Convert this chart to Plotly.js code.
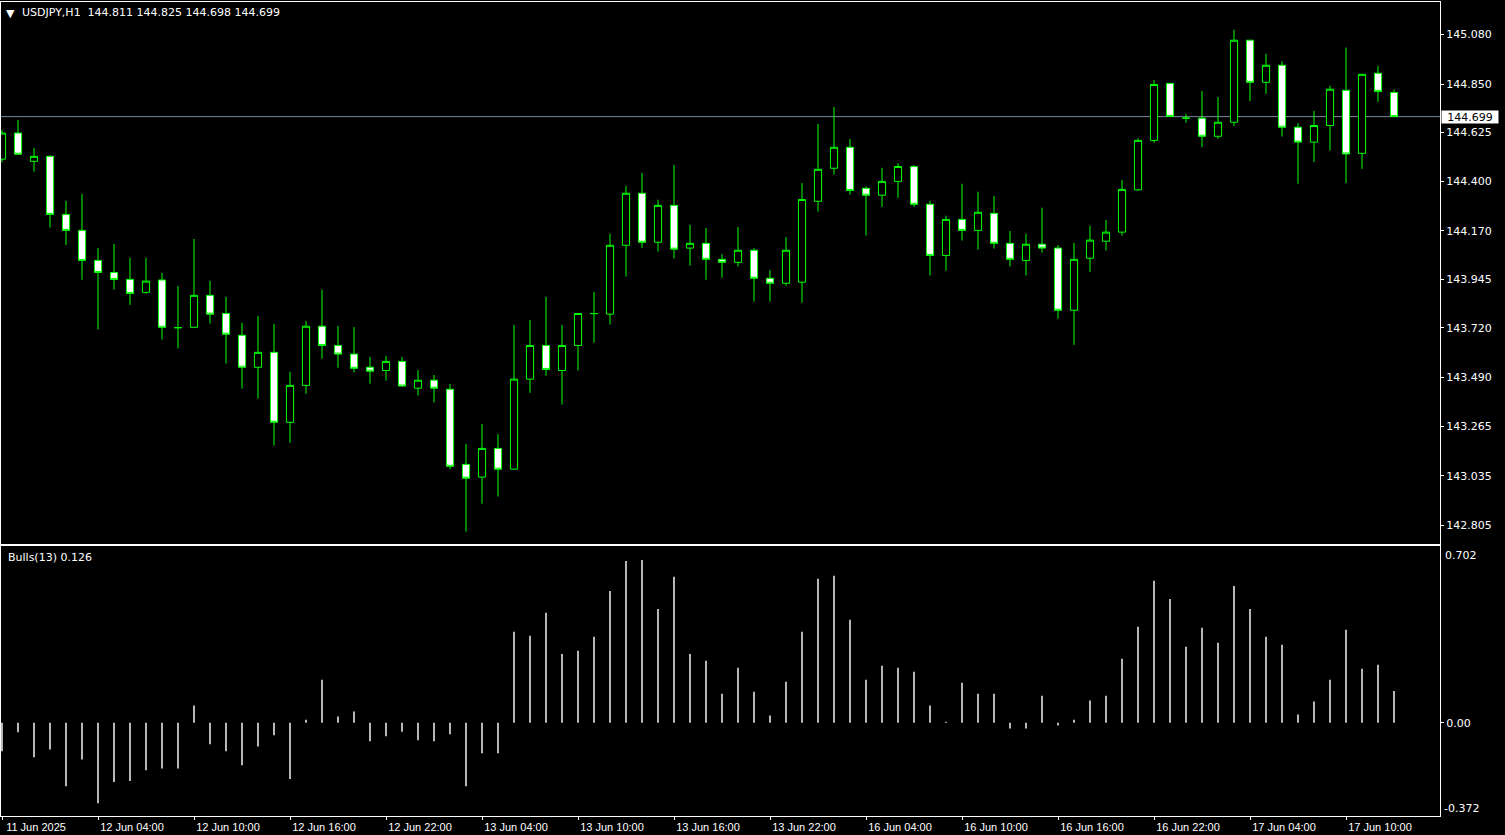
<!DOCTYPE html>
<html><head><meta charset="utf-8">
<script src="https://cdn.plot.ly/plotly-3.0.1.min.js"></script>
<style>html,body{margin:0;padding:0;background:#000;overflow:hidden}#chart{width:1505px;height:835px}</style>
</head><body><div id="chart"></div><script>
const symbol = 'USDJPY,H1';
const open  = [144.502,144.623,144.492,144.515,144.246,144.172,144.033,143.977,143.945,143.885,
143.942,143.722,143.723,143.871,143.787,143.686,143.538,143.607,143.283,143.454,
143.728,143.639,143.599,143.538,143.523,143.565,143.441,143.478,143.436,143.088,
143.029,143.162,143.066,143.483,143.639,143.523,143.639,143.786,143.784,144.103,
144.344,144.117,144.288,144.090,144.112,144.038,144.024,144.080,143.950,143.927,
143.932,144.307,144.460,144.557,144.367,144.335,144.399,144.468,144.293,144.056,
144.223,144.172,144.251,144.112,144.033,144.108,144.090,143.802,144.043,144.122,
144.164,144.360,144.589,144.853,144.692,144.692,144.608,144.673,145.053,144.858,
144.937,144.650,144.581,144.658,144.821,144.529,144.900,144.811];
const high  = [144.636,144.684,144.554,144.521,144.309,144.341,144.090,144.109,144.045,144.045,
143.975,143.914,144.132,143.938,143.864,143.744,143.776,143.739,143.517,143.752,
143.897,143.729,143.724,143.586,143.591,143.586,143.525,143.502,143.460,143.183,
143.275,143.228,143.734,143.757,143.864,143.734,143.790,143.887,144.156,144.378,
144.438,144.314,144.475,144.198,144.183,144.062,144.188,144.090,143.988,144.141,
144.391,144.665,144.744,144.595,144.376,144.462,144.484,144.475,144.309,144.240,
144.388,144.351,144.331,144.169,144.156,144.277,144.104,144.114,144.193,144.220,
144.405,144.599,144.869,144.856,144.711,144.818,144.790,145.101,145.055,144.990,
144.956,144.669,144.726,144.842,145.019,144.897,144.934,144.825];
const low   = [144.488,144.522,144.444,144.185,144.104,143.943,143.713,143.898,143.827,143.879,
143.666,143.625,143.721,143.740,143.555,143.439,143.393,143.175,143.188,143.415,
143.578,143.536,143.513,143.462,143.476,143.449,143.407,143.375,143.066,142.776,
142.906,142.939,143.064,143.420,143.499,143.365,143.523,143.652,143.736,143.958,
144.091,144.074,144.042,144.009,143.943,143.953,144.005,143.842,143.842,143.916,
143.837,144.259,144.431,144.338,144.148,144.281,144.323,144.281,143.963,143.985,
144.125,144.083,144.088,144.005,143.963,144.069,143.763,143.642,143.980,144.079,
144.148,144.356,144.578,144.698,144.671,144.558,144.597,144.655,144.771,144.805,
144.607,144.388,144.489,144.542,144.391,144.457,144.768,144.698];
const close = [144.623,144.525,144.515,144.246,144.172,144.033,143.977,143.945,143.880,143.937,
143.723,143.721,143.871,143.784,143.691,143.538,143.607,143.283,143.454,143.728,
143.639,143.599,143.533,143.520,143.565,143.451,143.478,143.441,143.079,143.024,
143.162,143.066,143.483,143.639,143.528,143.639,143.787,143.787,144.103,144.344,
144.117,144.288,144.085,144.112,144.038,144.024,144.080,143.950,143.927,144.080,
144.315,144.455,144.557,144.357,144.335,144.399,144.468,144.293,144.056,144.223,
144.172,144.256,144.112,144.038,144.108,144.090,143.802,144.038,144.127,144.164,
144.362,144.589,144.848,144.700,144.692,144.608,144.673,145.053,144.858,144.937,
144.650,144.581,144.658,144.826,144.526,144.895,144.816,144.699];
const bulls = [-0.114,-0.038,-0.138,-0.107,-0.253,-0.147,-0.321,-0.237,-0.233,-0.190,
-0.183,-0.183,0.068,-0.086,-0.114,-0.170,-0.095,-0.050,-0.225,0.012,
0.171,0.024,0.044,-0.074,-0.054,-0.036,-0.070,-0.074,-0.046,-0.253,
-0.122,-0.122,0.362,0.346,0.438,0.274,0.286,0.342,0.525,0.644,
0.648,0.453,0.581,0.274,0.247,0.115,0.219,0.123,0.028,0.163,
0.362,0.573,0.585,0.410,0.171,0.227,0.219,0.203,0.068,0.004,
0.159,0.115,0.115,-0.023,-0.023,0.107,-0.011,0.012,0.088,0.107,
0.255,0.382,0.565,0.493,0.302,0.378,0.318,0.545,0.453,0.342,
0.310,0.032,0.084,0.171,0.370,0.215,0.231,0.126];
const tickIdx = [0,6,12,18,24,30,36,42,48,54,60,66,72,78,84];
const tickLabels = ['11 Jun 2025','12 Jun 04:00','12 Jun 10:00','12 Jun 16:00','12 Jun 22:00',
'13 Jun 04:00','13 Jun 10:00','13 Jun 16:00','13 Jun 22:00','16 Jun 04:00','16 Jun 10:00',
'16 Jun 16:00','16 Jun 22:00','17 Jun 04:00','17 Jun 10:00'];
const priceTicks = [145.080,144.850,144.625,144.400,144.170,143.945,143.720,143.490,143.265,143.035,142.805];
const bullsMax = 0.702, bullsMin = -0.372;
const bidPrice = 144.699;
const bullsLabel = 'Bulls(13) 0.126';

const x = open.map((_, i) => i);
const F = 'DejaVu Sans, sans-serif';
const XR = [-0.0625, 89.875];
const NB = '\u00a0';

const traces = [
  {type:'candlestick', x:x, open:open, high:high, low:low, close:close, xaxis:'x', yaxis:'y',
   increasing:{line:{color:'#00ff00', width:1}, fillcolor:'#000000'},
   decreasing:{line:{color:'#00ff00', width:1}, fillcolor:'#ffffff'},
   whiskerwidth:0, hoverinfo:'skip', showlegend:false},
  {type:'bar', x:x, y:bulls, xaxis:'x2', yaxis:'y2', width:0.12,
   marker:{color:'#c0c0c0', line:{width:0}}, hoverinfo:'skip', showlegend:false}
];

const axCommon = {showgrid:false, zeroline:false, showline:true, mirror:true, linecolor:'#ffffff', linewidth:1, fixedrange:true};
const layout = {
  width:1505, height:835, paper_bgcolor:'#000000', plot_bgcolor:'#000000',
  margin:{l:1, r:65, t:2, b:19}, showlegend:false, boxgap:0.36,
  xaxis:Object.assign({}, axCommon, {domain:[0,1], anchor:'y', range:XR, showticklabels:false, ticks:'', rangeslider:{visible:false}}),
  yaxis:Object.assign({}, axCommon, {domain:[0.3342,1], anchor:'x', side:'right', range:[142.7193,145.2301],
    tickvals:priceTicks, ticktext:priceTicks.map(v=>v.toFixed(3)), ticks:'outside', ticklen:3, tickcolor:'#ffffff',
    tickfont:{family:F, size:11, color:'#ffffff'}}),
  xaxis2:Object.assign({}, axCommon, {domain:[0,1], anchor:'y2', range:XR, tickvals:tickIdx, ticktext:tickLabels,
    ticks:'outside', ticklen:3, tickcolor:'#ffffff', ticklabelshift:34, ticklabelstandoff:-2,
    tickfont:{family:'Liberation Sans, Arial, sans-serif', size:11, color:'#ffffff'}}),
  yaxis2:Object.assign({}, axCommon, {domain:[0,0.3311], anchor:'x2', side:'right', range:[bullsMin,bullsMax],
    tickvals:[0], ticktext:['0.00'], ticks:'outside', ticklen:3, tickcolor:'#ffffff',
    tickfont:{family:F, size:11, color:'#ffffff'}}),
  shapes:[
    {type:'line', xref:'paper', x0:0, x1:1, yref:'y', y0:bidPrice, y1:bidPrice, layer:'below', line:{color:'#778899', width:1}}
  ],
  annotations:[
    {xref:'paper', yref:'paper', x:0.0069, y:0.9862, xanchor:'center', yanchor:'middle', text:'\u25BC', showarrow:false,
     font:{family:F, size:11, color:'#ffffff'}},
    {xref:'paper', yref:'paper', x:0.0132, y:0.9873, xanchor:'left', yanchor:'middle', showarrow:false,
     text: symbol + NB + NB + [open[87], high[87], low[87], close[87]].map(v=>v.toFixed(3)).join(NB),
     font:{family:F, size:11, color:'#ffffff'}},
    {xref:'paper', yref:'paper', x:0.0035, y:0.3173, xanchor:'left', yanchor:'middle', showarrow:false,
     text: bullsLabel, font:{family:F, size:11, color:'#ffffff'}},
    {xref:'paper', yref:'y', x:1, y:bidPrice, xanchor:'left', yanchor:'middle', xshift:1, showarrow:false,
     text: bidPrice.toFixed(3), bgcolor:'#ffffff', width:54, height:10, borderpad:1,
     font:{family:F, size:11, color:'#000000'}},
    {xref:'paper', yref:'paper', x:1, y:0.3198, xanchor:'left', yanchor:'middle', xshift:3, showarrow:false,
     text: bullsMax.toFixed(3), font:{family:F, size:11, color:'#ffffff'}},
    {xref:'paper', yref:'paper', x:1, y:0.0095, xanchor:'left', yanchor:'middle', xshift:2, showarrow:false,
     text: bullsMin.toFixed(3), font:{family:F, size:11, color:'#ffffff'}}
  ]
};
Plotly.newPlot('chart', traces, layout, {displayModeBar:false, staticPlot:true});
</script></body></html>
